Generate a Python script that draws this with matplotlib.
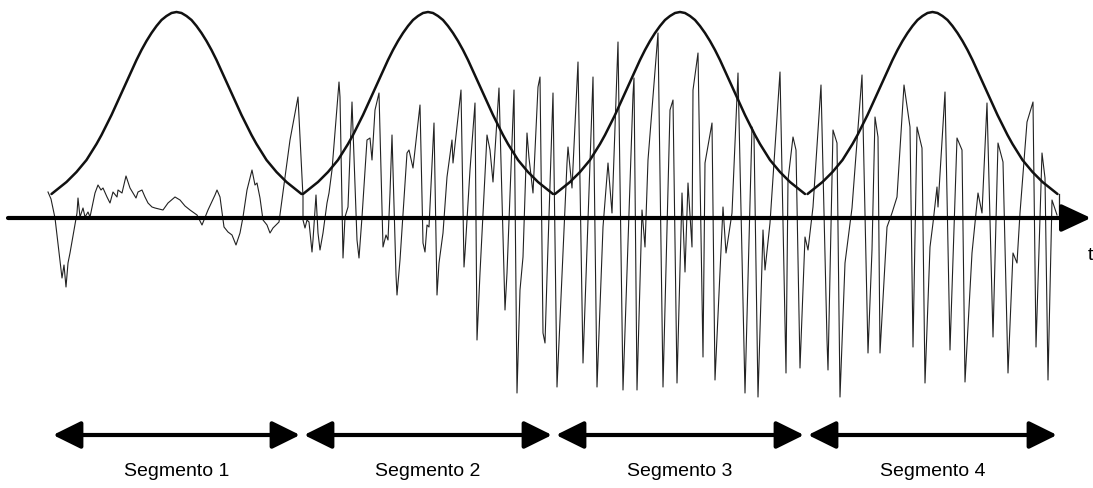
import matplotlib.pyplot as plt

# screen-like units: x to the right, y downward (axis drawn at y = 218)
AXIS_Y = 218

# segment borders and labels
seg_edges = [51, 302, 554, 806, 1059]
seg_labels = ["Segmento 1", "Segmento 2", "Segmento 3", "Segmento 4"]

# half of one analysis window (offset from window centre -> height)
win_off = [0, 5, 10, 15, 20, 25, 30, 35, 40, 45, 50, 55, 60, 65, 70, 75, 80,
           85, 90, 95, 100, 105, 110, 115, 120, 125]
win_y = [12, 13, 16, 20, 26, 33, 41, 50, 60, 71, 82, 93, 104, 115, 125, 135,
         144, 152, 160, 166, 172, 177, 182, 186, 190, 194]

# signal
sig_t = [48, 51, 55, 62, 64, 66, 68, 70, 74, 77, 78, 80, 83, 85, 88, 90, 95, 98,
         101, 103, 107, 110, 113, 117, 118, 122, 126, 130, 133, 136, 138, 142,
         145, 148, 152, 155, 163, 168, 175, 180, 185, 190, 197, 202, 208, 215,
         217, 220, 224, 228, 232, 236, 240, 243, 247, 252, 255, 257, 260, 263,
         267, 270, 273, 279, 290, 298,
         303, 303, 305, 307, 309, 312, 313, 316, 318, 320, 323, 327, 329, 332,
         339, 340, 343, 345, 348, 352, 357, 359, 362, 367, 370, 372, 375, 379,
         383, 386, 388, 390, 392, 393, 396, 397, 400, 407, 409, 413, 420, 423,
         425, 427, 429, 434, 437, 439, 443, 447, 452, 453, 461, 464, 465, 470,
         475, 477, 480, 487, 490, 493, 499, 505, 507, 514, 517, 520, 523, 527,
         529, 533, 538, 540, 543, 545, 547, 553, 557,
         567, 568, 572, 578, 583, 593, 597, 603, 608, 612, 618, 623, 633, 634,
         637, 642, 645, 648, 658, 663, 670, 673, 677, 682, 685, 688, 692, 693,
         698, 703, 705, 712, 715, 723, 726, 732, 738, 745, 752, 754, 758, 763,
         765, 770, 780, 786, 788, 793, 796, 800, 805, 808, 813,
         821, 827, 828, 833, 837, 840, 845, 852, 862, 868, 872, 875, 878, 880,
         887, 892, 897, 904, 910, 913, 917, 922, 925, 930, 933, 937, 938, 945,
         950, 957, 962, 965, 972, 978, 982, 987, 993, 998, 1003, 1008, 1013,
         1017, 1020, 1027, 1033, 1036, 1042, 1045, 1048, 1052, 1057]
sig_y = [192, 199, 218, 278, 265, 287, 263, 253, 230, 213, 198, 217, 208, 217,
         212, 217, 193, 185, 190, 188, 197, 203, 192, 197, 190, 193, 176, 188,
         193, 198, 192, 190, 197, 203, 207, 208, 210, 203, 197, 200, 206, 210,
         215, 225, 210, 195, 190, 197, 227, 232, 235, 245, 233, 217, 190, 170,
         185, 183, 198, 220, 225, 233, 228, 222, 140, 97,
         197, 220, 228, 220, 222, 252, 240, 195, 233, 250, 233, 203, 193, 170,
         82, 97, 258, 217, 207, 102, 240, 258, 217, 140, 138, 160, 110, 93,
         247, 235, 240, 193, 135, 170, 275, 295, 260, 153, 150, 168, 105, 243,
         252, 225, 227, 123, 295, 263, 233, 177, 140, 163, 90, 267, 253, 170,
         103, 340, 273, 135, 150, 182, 88, 310, 273, 90, 393, 290, 257, 133,
         158, 193, 87, 77, 333, 343, 277, 93, 387,
         163, 147, 188, 62, 363, 77, 387, 227, 163, 213, 42, 390, 95, 78,
         390, 210, 247, 160, 33, 387, 110, 100, 383, 193, 272, 183, 247, 90,
         53, 357, 163, 123, 380, 207, 253, 213, 73, 393, 127, 135, 397, 230,
         270, 223, 72, 373, 180, 137, 150, 368, 237, 250, 207,
         85, 340, 370, 130, 143, 397, 263, 208, 75, 353, 250, 117, 137, 353,
         227, 213, 197, 85, 127, 347, 127, 148, 383, 247, 223, 187, 207, 92,
         350, 138, 150, 382, 253, 193, 213, 103, 337, 143, 162, 373, 253,
         263, 213, 122, 102, 347, 153, 178, 380, 200, 215]

fig = plt.figure(figsize=(10.93, 4.88), dpi=100)
ax = fig.add_axes([0, 0, 1, 1])
ax.set_xlim(0, 1093)
ax.set_ylim(488, 0)
ax.axis("off")

# signal
ax.plot(sig_t, sig_y, color="#222222", lw=0.8, zorder=2)

# gaussian windows, one per segment
full_off = [-d for d in win_off[::-1]] + win_off[1:]
full_y = win_y[::-1] + win_y[1:]
for i in range(4):
    c = (seg_edges[i] + seg_edges[i + 1]) / 2
    ax.plot([c + d for d in full_off], full_y, color="#111111", lw=1.8,
            zorder=3, solid_capstyle="round")
ax.plot([seg_edges[-1], seg_edges[-1]], [win_y[-1], AXIS_Y], color="#222222",
        lw=0.9, zorder=3)

# time axis
ax.annotate("", xy=(1091, AXIS_Y), xytext=(8, AXIS_Y),
            arrowprops=dict(arrowstyle="-|>,head_length=0.9,head_width=0.42",
                            mutation_scale=20, lw=3, color="black",
                            shrinkA=0, shrinkB=0), zorder=4)
ax.text(1090, 255, "t", fontsize=14, family="Liberation Sans",
        ha="center", va="center")

# segment arrows and labels
for i in range(4):
    x0 = seg_edges[i] + 2
    x1 = seg_edges[i + 1] - 2
    ax.annotate("", xy=(x1, 435), xytext=(x0, 435),
                arrowprops=dict(arrowstyle="<|-|>,head_length=0.85,head_width=0.42",
                                mutation_scale=20, lw=3, color="black",
                                shrinkA=0, shrinkB=0))
    ax.text((x0 + x1) / 2, 471, seg_labels[i], fontsize=14,
            family="Liberation Sans", ha="center", va="center")

fig.savefig("out.png", dpi=100)
plt.close("all")
